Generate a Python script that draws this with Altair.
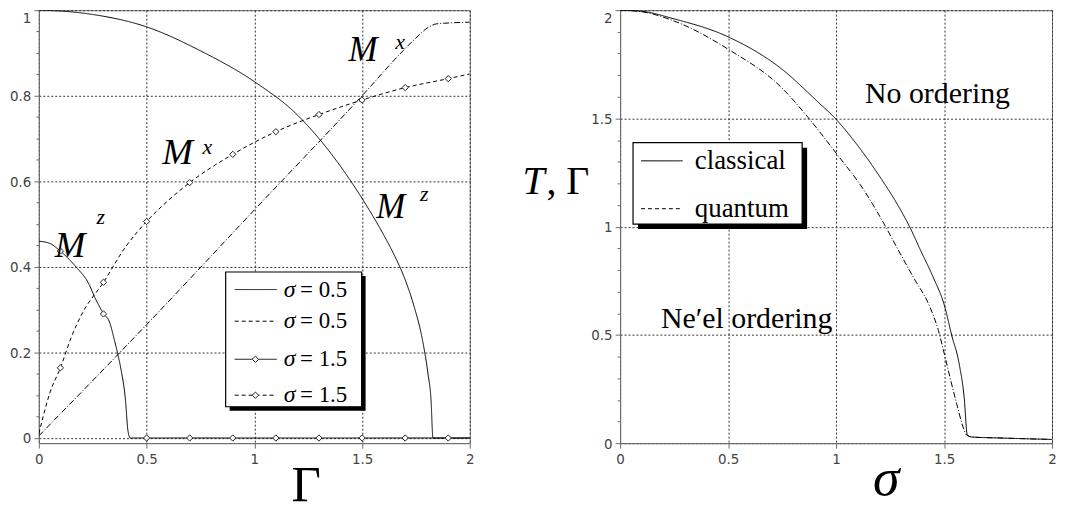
import altair as alt
import pandas as pd

# ---------------- left panel: magnetisations versus Gamma ----------------
g_mz_s05 = [0, 0.1, 0.25, 0.5, 0.75, 1.0, 1.2, 1.3, 1.4, 1.5, 1.6, 1.645, 1.7, 1.74, 1.78, 1.806, 1.82, 1.829, 2.0]
mz_s05 = [1.0, 0.998, 0.99, 0.961, 0.905, 0.833, 0.755, 0.70, 0.635, 0.56, 0.475, 0.432, 0.37, 0.31, 0.23, 0.15, 0.09, 0.0, 0.0]

g_mx_s05 = [0, 0.5, 1.0, 1.5, 1.69, 1.75, 1.814, 1.845, 1.9, 2.0]
mx_s05 = [0.005, 0.265, 0.533, 0.80, 0.905, 0.935, 0.962, 0.968, 0.970, 0.972]

g_mz_s15 = [0, 0.05, 0.097, 0.174, 0.228, 0.266, 0.3, 0.328, 0.351, 0.366, 0.382, 0.402, 0.413, 0.424, 2.0]
mz_s15 = [0.46, 0.455, 0.438, 0.399, 0.364, 0.322, 0.291, 0.271, 0.228, 0.197, 0.158, 0.089, 0.019, 0.0, 0.0]

g_mx_s15 = [0, 0.02, 0.05, 0.1, 0.15, 0.2, 0.3, 0.4, 0.5, 0.6, 0.7, 0.9, 1.1, 1.3, 1.5, 1.7, 1.9, 2.0]
mx_s15 = [0.01, 0.05, 0.104, 0.164, 0.235, 0.29, 0.364, 0.445, 0.506, 0.555, 0.597, 0.663, 0.716, 0.756, 0.79, 0.819, 0.84, 0.851]

g_marks = [0.1, 0.3, 0.5, 0.7, 0.9, 1.1, 1.3, 1.5, 1.7, 1.9]
mz_s15_marks = [0.437, 0.29, 0, 0, 0, 0, 0, 0, 0, 0]
mx_s15_marks = [0.164, 0.364, 0.506, 0.597, 0.663, 0.716, 0.756, 0.79, 0.819, 0.84]

left_ann_text = ["M", "x", "M", "z", "M", "x", "M", "z"]
left_ann_x = [0.573, 0.76, 0.074, 0.268, 1.437, 1.654, 1.566, 1.769]
left_ann_y = [0.641, 0.664, 0.422, 0.501, 0.881, 0.909, 0.515, 0.555]
left_ann_size = [37, 22, 37, 22, 35, 22, 35, 22]

left_leg_sigma = ["σ", "σ", "σ", "σ"]
left_leg_value = ["= 0.5", "= 0.5", "= 1.5", "= 1.5"]
left_leg_rows = [0.347, 0.273, 0.184, 0.100]
left_leg_dash = [[1, 0], [4, 3], [1, 0], [4, 3]]
left_leg_marker = [False, False, True, True]
left_leg_box = [0.867, 1.498, 0.073, 0.388]   # x0, x1, y0, y1
left_leg_sample = [0.909, 1.104, 1.005]       # x0, x1, marker x
left_leg_text_x = [1.136, 1.212]

# ---------------- right panel: phase diagram ----------------
s_classical = [0, 0.1, 0.25, 0.5, 0.75, 0.912, 1.0, 1.1, 1.2, 1.3, 1.343, 1.392, 1.45, 1.504, 1.535, 1.57, 1.593, 1.608, 1.63, 1.75, 2.0]
t_classical = [2.0, 1.995, 1.96, 1.877, 1.727, 1.58, 1.496, 1.375, 1.235, 1.075, 0.995, 0.889, 0.766, 0.628, 0.50, 0.367, 0.213, 0.037, 0.028, 0.024, 0.017]

s_quantum = [0, 0.1, 0.25, 0.5, 0.75, 0.866, 1.0, 1.128, 1.235, 1.281, 1.358, 1.435, 1.474, 1.497, 1.527, 1.558, 1.588, 1.605, 1.63, 1.75, 2.0]
t_quantum = [2.0, 1.993, 1.95, 1.82, 1.64, 1.51, 1.34, 1.17, 0.99, 0.905, 0.766, 0.628, 0.52, 0.43, 0.306, 0.184, 0.075, 0.037, 0.028, 0.024, 0.017]

right_ann_text = ["No ordering", "Ne′el ordering"]
right_ann_x = [1.134, 0.189]
right_ann_y = [1.571, 0.530]

right_leg_labels = ["classical", "quantum"]
right_leg_rows = [1.304, 1.083]
right_leg_dash = [[1, 0], [4, 3]]
right_leg_box = [0.060, 0.843, 1.012, 1.388]
right_leg_sample = [0.097, 0.290]
right_leg_text_x = 0.346

ytitle_parts = ["T", ", Γ"]
ytitle_x = [-0.452, -0.341]
ytitle_y = 1.152

SERIF = "Liberation Serif"
SANS = "Liberation Sans Narrow, DejaVu Sans Condensed, Liberation Sans, sans-serif"
AXC = "#6e6e6e"
W, H = 433, 435


def axis(orient, values, major_test, top_value=None, title=None, **kw):
    extra = {}
    if top_value is not None:
        extra["labelBaseline"] = {"condition": {"test": f"datum.value > {top_value - 1e-6}",
                                                "value": "top"}, "value": "middle"}
    return alt.Axis(
        orient=orient, values=values,
        labelExpr=f"({major_test}) ? format(datum.value, '~g') : ''",
        grid=True, gridDash=[2, 2], gridColor="#333", gridWidth=1,
        gridOpacity={"condition": {"test": major_test, "value": 1}, "value": 0},
        domain=True, domainColor=AXC, domainWidth=1,
        ticks=True, tickColor=AXC, tickWidth=1,
        tickSize={"condition": {"test": major_test, "value": 5}, "value": 3},
        labelFont=SANS, labelFontSize=15, labelColor="#444", labelPadding=3,
        labelFlush=False, labelOverlap=False, title=title, **extra, **kw)


def line(xv, yv, xs, ys, dash, xa=None, ya=None):
    df = pd.DataFrame({"x": xv, "y": yv})
    return alt.Chart(df).mark_line(color="black", strokeWidth=1, strokeDash=dash,
                                   interpolate="monotone", clip=True).encode(
        x=alt.X("x:Q", scale=xs, axis=xa), y=alt.Y("y:Q", scale=ys, axis=ya))


def points(xv, yv, xs, ys):
    df = pd.DataFrame({"x": xv, "y": yv})
    return alt.Chart(df).mark_point(shape="diamond", size=40, filled=False, fill="white",
                                    fillOpacity=1, stroke="#222", strokeWidth=1, opacity=1).encode(
        x=alt.X("x:Q", scale=xs, axis=None), y=alt.Y("y:Q", scale=ys, axis=None))


def texts(tv, xv, yv, sv, xs, ys, style="normal", baseline="alphabetic"):
    df = pd.DataFrame({"t": tv, "x": xv, "y": yv, "s": sv})
    return alt.Chart(df).mark_text(font=SERIF, fontStyle=style, align="left",
                                   baseline=baseline, color="black").encode(
        x=alt.X("x:Q", scale=xs, axis=None), y=alt.Y("y:Q", scale=ys, axis=None),
        text="t:N", size=alt.Size("s:Q", scale=None, legend=None))


def legend_box(box, xs, ys, shadow):
    df = pd.DataFrame({"x": [box[0]], "x2": [box[1]], "y": [box[2]], "y2": [box[3]]})
    enc = dict(x=alt.X("x:Q", scale=xs, axis=None), x2="x2:Q",
               y=alt.Y("y:Q", scale=ys, axis=None), y2="y2:Q")
    sh = alt.Chart(df).mark_rect(color="black", xOffset=shadow, x2Offset=shadow,
                                 yOffset=shadow, y2Offset=shadow).encode(**enc)
    bx = alt.Chart(df).mark_rect(fill="white", stroke="black", strokeWidth=1.2).encode(**enc)
    return [sh, bx]


def sample(x0, x1, yv, dash, xs, ys):
    df = pd.DataFrame({"x": [x0], "x2": [x1], "y": [yv]})
    return alt.Chart(df).mark_rule(color="black", strokeWidth=1, strokeDash=dash).encode(
        x=alt.X("x:Q", scale=xs, axis=None), x2="x2:Q", y=alt.Y("y:Q", scale=ys, axis=None))


# ---------- left chart ----------
xsL = alt.Scale(domain=[0, 2], nice=False, zero=False)
ysL = alt.Scale(domain=[-0.012, 1], nice=False, zero=False)
maj_x = "abs(datum.value*2 - round(datum.value*2)) < 1e-6"
maj_yL = "abs(datum.value*5 - round(datum.value*5)) < 1e-6"

xaxL = axis("bottom", [0, 0.5, 1, 1.5, 2], maj_x, title="Γ",
            titleFont=SERIF, titleFontSize=51, titleFontWeight="normal", titleColor="black",
            titleX=268, titleY=58, titleBaseline="alphabetic", titleAlign="center")
yaxL = axis("left", [round(0.05 * i, 2) for i in range(21)], maj_yL, top_value=1)

left_layers = [
    line(g_mz_s05, mz_s05, xsL, ysL, [1, 0], xaxL, yaxL),
    line(g_mx_s05, mx_s05, xsL, ysL, [6, 2, 1, 2]),
    line(g_mz_s15, mz_s15, xsL, ysL, [1, 0]),
    line(g_mx_s15, mx_s15, xsL, ysL, [4, 3]),
    points(g_marks, mz_s15_marks, xsL, ysL),
    points(g_marks, mx_s15_marks, xsL, ysL),
    texts(left_ann_text, left_ann_x, left_ann_y, left_ann_size, xsL, ysL, style="italic"),
]
left_layers += legend_box(left_leg_box, xsL, ysL, 4)
for i in range(4):
    left_layers.append(sample(left_leg_sample[0], left_leg_sample[1], left_leg_rows[i],
                              left_leg_dash[i], xsL, ysL))
    if left_leg_marker[i]:
        left_layers.append(points([left_leg_sample[2]], [left_leg_rows[i]], xsL, ysL))
left_layers.append(texts(left_leg_sigma, [left_leg_text_x[0]] * 4, left_leg_rows, [24] * 4,
                         xsL, ysL, style="italic", baseline="middle"))
left_layers.append(texts(left_leg_value, [left_leg_text_x[1]] * 4, left_leg_rows, [23] * 4,
                         xsL, ysL, baseline="middle"))

left = alt.layer(*left_layers).resolve_axis(x="independent", y="independent").properties(
    width=W, height=H)

# ---------- right chart ----------
xsR = alt.Scale(domain=[0, 2], nice=False, zero=False)
ysR = alt.Scale(domain=[0, 2], nice=False, zero=False)
maj_yR = "abs(datum.value*2 - round(datum.value*2)) < 1e-6"

xaxR = axis("bottom", [0, 0.5, 1, 1.5, 2], maj_x, title="σ",
            titleFont=SERIF, titleFontSize=54, titleFontStyle="italic", titleFontWeight="normal",
            titleColor="black", titleX=267, titleY=52, titleBaseline="alphabetic", titleAlign="center")
yaxR = axis("left", [round(0.1 * i, 2) for i in range(21)], maj_yR, top_value=2)

right_layers = [
    line(s_classical, t_classical, xsR, ysR, [1, 0], xaxR, yaxR),
    line(s_quantum, t_quantum, xsR, ysR, [6, 2, 1, 2]),
    texts(right_ann_text, right_ann_x, right_ann_y, [30, 30], xsR, ysR),
    texts([ytitle_parts[0]], [ytitle_x[0]], [ytitle_y], [40], xsR, ysR, style="italic"),
    texts([ytitle_parts[1]], [ytitle_x[1]], [ytitle_y], [40], xsR, ysR),
]
right_layers += legend_box(right_leg_box, xsR, ysR, 5)
for i in range(2):
    right_layers.append(sample(right_leg_sample[0], right_leg_sample[1], right_leg_rows[i],
                               right_leg_dash[i], xsR, ysR))
right_layers.append(texts(right_leg_labels, [right_leg_text_x] * 2, right_leg_rows, [27, 27],
                          xsR, ysR, baseline="middle"))

right = alt.layer(*right_layers).resolve_axis(x="independent", y="independent").properties(
    width=W + 1, height=H)

chart = alt.hconcat(left, right, spacing=47).properties(
    padding={"left": 1, "top": 0, "right": 0, "bottom": 0}, background="white"
).configure_view(stroke="#777", strokeWidth=1)

chart.save("out.html", embed_options={"renderer": "svg", "actions": False})
